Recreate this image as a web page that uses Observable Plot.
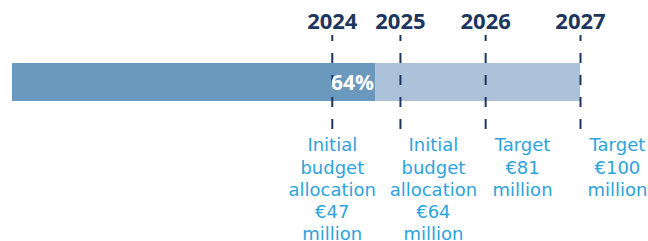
<!DOCTYPE html>
<html>
<head>
<meta charset="utf-8">
<script src="https://cdn.jsdelivr.net/npm/d3@7"></script>
<script src="https://cdn.jsdelivr.net/npm/@observablehq/plot@0.6"></script>
<style>
  html, body { margin: 0; padding: 0; background: #fff; }
  #chart svg { display: block; }
</style>
</head>
<body>
<div id="chart"></div>
<script>
// Progress bar (share of total, %)
const achieved = 64;
const total = 100;

// Year markers and their position on the 0–100 scale
const years = ["2024", "2025", "2026", "2027"];
const yearPos = [56.3, 68.3, 83.3, 100];

// Annotations beneath each year
const notes = [
  "Initial\nbudget\nallocation\n€47\nmillion",
  "Initial\nbudget\nallocation\n€64\nmillion",
  "Target\n€81\nmillion",
  "Target\n€100\nmillion"
];
const notePos = [56.3, 74.1, 89.8, 106.5];

const segments = [
  {x1: 0, x2: achieved, part: "done"},
  {x1: achieved, x2: total, part: "rest"}
];
const yearData = years.map((y, i) => ({year: y, x: yearPos[i]}));
const noteData = notes.map((t, i) => ({text: t, x: notePos[i]}));

const navy = "#1d3660";
const chart = Plot.plot({
  width: 648,
  height: 241,
  margin: 0,
  style: {background: "#fff", overflow: "visible"},
  x: {domain: [0, 100], range: [12, 580], axis: null},
  y: {domain: ["bar"], range: [63, 101], padding: 0, axis: null},
  color: {domain: ["done", "rest"], range: ["#6b98bd", "#abc2da"]},
  marks: [
    Plot.barX(segments, {x1: "x1", x2: "x2", y: () => "bar", fill: "part", inset: 0}),
    Plot.ruleX(yearData, {
      x: "x", stroke: navy, strokeWidth: 2,
      strokeDasharray: "10,12", strokeDashoffset: 4,
      insetTop: 35, insetBottom: 111
    }),
    Plot.text(yearData, {
      x: "x", text: "year", frameAnchor: "top", lineAnchor: "top", dy: 12.5,
      fill: navy, fontSize: 22, fontWeight: 700, fontFamily: "Open Sans"
    }),
    Plot.text([achieved], {
      x: d => d, y: () => "bar", text: d => `${d}%`, textAnchor: "end", dx: -2, dy: 1,
      fill: "#fff", fontSize: 21, fontWeight: 700, fontFamily: "Open Sans"
    }),
    Plot.text(noteData, {
      x: "x", text: "text", frameAnchor: "top", lineAnchor: "top", dy: 135,
      lineHeight: 1.235, fill: "#2ea3dc", fontSize: 18, fontFamily: "DejaVu Sans"
    })
  ]
});
document.getElementById("chart").appendChild(chart);
</script>
</body>
</html>
